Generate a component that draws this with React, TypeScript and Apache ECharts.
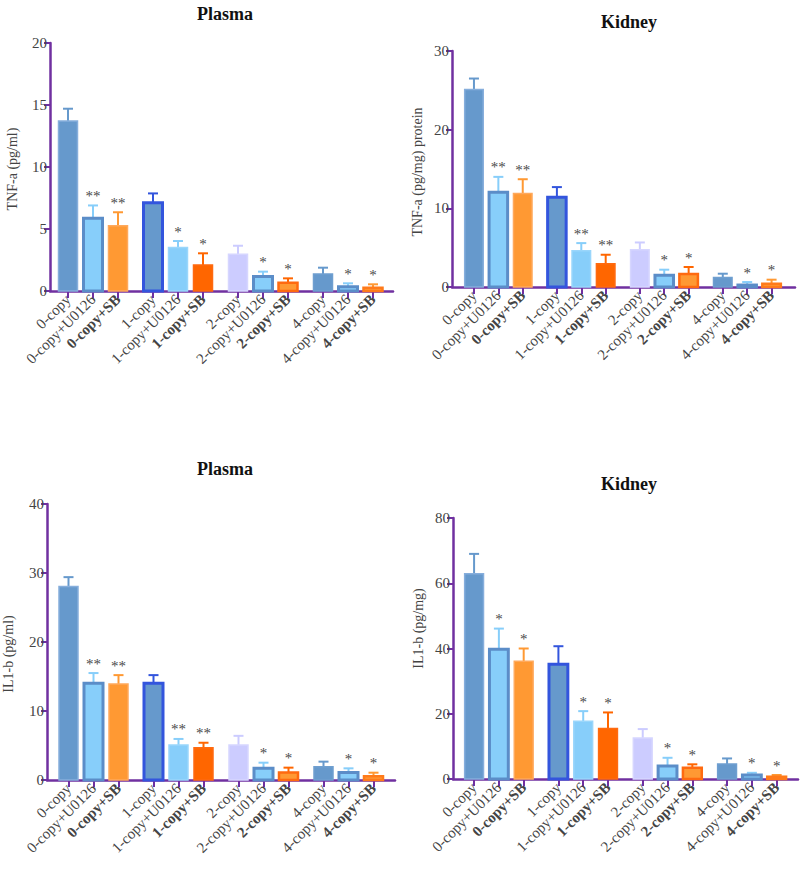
import React, { useEffect, useRef } from "react";
import * as echarts from "echarts";

const categories = [
  "0-copy", "0-copy+U0126", "0-copy+SB",
  "1-copy", "1-copy+U0126", "1-copy+SB",
  "2-copy", "2-copy+U0126", "2-copy+SB",
  "4-copy", "4-copy+U0126", "4-copy+SB",
];
// grouped category positions on the x value axis (groups of three, with a gap)
const xPositions = [0, 1, 2, 3.4, 4.4, 5.4, 6.8, 7.8, 8.8, 10.2, 11.2, 12.2];

const plasmaTnfMean = [13.7, 5.86, 5.27, 7.12, 3.5, 2.1, 2.96, 1.16, 0.67, 1.37, 0.35, 0.27];
const plasmaTnfErr = [1.0, 1.04, 1.08, 0.75, 0.53, 0.94, 0.69, 0.4, 0.35, 0.51, 0.27, 0.27];
const plasmaTnfSig = ["", "**", "**", "", "*", "*", "", "*", "*", "", "*", "*"];

const kidneyTnfMean = [25.1, 12.05, 11.9, 11.4, 4.6, 2.96, 4.73, 1.48, 1.65, 1.22, 0.25, 0.42];
const kidneyTnfErr = [1.4, 1.95, 1.8, 1.3, 0.98, 1.14, 0.93, 0.72, 0.89, 0.47, 0.38, 0.51];
const kidneyTnfSig = ["", "**", "**", "", "**", "**", "", "*", "*", "", "*", "*"];

const plasmaIlMean = [28.06, 14.03, 13.9, 14.03, 5.08, 4.69, 5.08, 1.69, 1.1, 1.93, 1.1, 0.53];
const plasmaIlErr = [1.34, 1.47, 1.3, 1.17, 0.87, 0.71, 1.32, 0.82, 0.69, 0.73, 0.59, 0.53];
const plasmaIlSig = ["", "**", "**", "", "**", "**", "", "*", "*", "", "*", "*"];

const kidneyIlMean = [62.9, 39.75, 36.1, 35.2, 17.7, 15.5, 12.6, 3.98, 3.46, 4.59, 1.22, 0.7];
const kidneyIlErr = [6.1, 6.35, 3.9, 5.5, 3.1, 4.9, 2.7, 2.52, 1.04, 1.71, 0.68, 0.52];
const kidneyIlSig = ["", "*", "*", "", "*", "*", "", "*", "*", "", "*", "*"];

const panelTitles = ["Plasma", "Kidney", "Plasma", "Kidney"];
const yNames = ["TNF-a (pg/ml)", "TNF-a (pg/mg) protein", "IL1-b (pg/ml)", "IL1-b (pg/mg)"];
const yMax = [20, 30, 40, 80];
const yStep = [5, 10, 10, 20];

const fillColors = ["#6699CC", "#87CEFA", "#FF9933", "#6699CC", "#87CEFA", "#FF6600", "#CCCCFF", "#87CEFA", "#FF9933", "#6699CC", "#87CEFA", "#FF9933"];
const borderColors = ["#86AEDC", "#5B8DC8", "#FFA95C", "#3355DD", "#9AD6FB", "#FF6A10", "#D6D6FF", "#5B8DC8", "#FF6A10", "#6F9FD0", "#5B8DC8", "#FF7A1A"];
const borderWidths = [1.5, 3, 1.5, 3, 1.5, 1.5, 1.5, 3, 2.5, 1.5, 3, 2.5];
const errColors = ["#6699CC", "#87CEFA", "#FF9933", "#3355DD", "#87CEFA", "#FF6600", "#CCCCFF", "#87CEFA", "#FF6600", "#6699CC", "#87CEFA", "#FF9933"];

const AXIS = "#7030A0";
const SERIF = "'Liberation Serif', 'DejaVu Serif', serif";

export default function App() {
  const ref = useRef<HTMLDivElement>(null);
  useEffect(() => {
    document.body.style.margin = "0";
    const chart = echarts.init(ref.current!, null, { renderer: "svg" });

    const panels = [
      { mean: plasmaTnfMean, err: plasmaTnfErr, sig: plasmaTnfSig, grid: { left: 50, top: 43, width: 343, height: 248 }, xmin: -0.72, xmax: 13.0, title: { x: 220, y: 0 }, nameGap: 31, namePad: [0, 4, 0, 0] },
      { mean: kidneyTnfMean, err: kidneyTnfErr, sig: kidneyTnfSig, grid: { left: 452, top: 51, width: 343, height: 236 }, xmin: -0.9, xmax: 13.16, title: { x: 624, y: 8 }, nameGap: 28, namePad: [0, 6, 0, 0] },
      { mean: plasmaIlMean, err: plasmaIlErr, sig: plasmaIlSig, grid: { left: 45, top: 504, width: 350, height: 276 }, xmin: -0.86, xmax: 13.06, title: { x: 220, y: 455 }, nameGap: 32, namePad: [0, 24, 0, 0] },
      { mean: kidneyIlMean, err: kidneyIlErr, sig: kidneyIlSig, grid: { left: 453, top: 518, width: 345, height: 261 }, xmin: -0.85, xmax: 13.06, title: { x: 624, y: 470 }, nameGap: 28, namePad: [0, 0, 0, 40] },
    ];

    const option: any = {
      animation: false,
      backgroundColor: "#ffffff",
      title: panels.map((p, i) => ({
        text: panelTitles[i],
        left: p.title.x,
        top: p.title.y,
        textAlign: "center",
        textStyle: { fontFamily: SERIF, fontWeight: "bold", fontSize: 18, color: "#111" },
      })),
      grid: panels.map((p) => ({ ...p.grid, containLabel: false })),
      xAxis: panels.map((p, i) => ({
        type: "value",
        gridIndex: i,
        min: p.xmin,
        max: p.xmax,
        splitLine: { show: false },
        axisLine: { show: true, onZero: false, lineStyle: { color: AXIS, width: 2.5 } },
        axisTick: { show: true, customValues: xPositions, length: 7, lineStyle: { color: AXIS, width: 2 } },
        axisLabel: {
          customValues: xPositions,
          rotate: 45,
          margin: 6,
          fontFamily: SERIF,
          fontSize: 15,
          color: "#444",
          formatter: (v: number) => {
            const k = xPositions.findIndex((q) => Math.abs(q - v) < 1e-6);
            const name = k >= 0 ? categories[k] : "";
            return name.endsWith("+SB") ? "{b|" + name + "}" : name;
          },
          rich: { b: { fontFamily: SERIF, fontSize: 15, fontWeight: "bold", color: "#444" } },
        },
      })),
      yAxis: panels.map((p, i) => ({
        type: "value",
        gridIndex: i,
        min: 0,
        max: yMax[i],
        interval: yStep[i],
        name: yNames[i],
        nameLocation: "middle",
        nameGap: p.nameGap,
        nameTextStyle: { fontFamily: SERIF, fontSize: 14, color: "#444", padding: p.namePad },
        splitLine: { show: false },
        axisLine: { show: true, onZero: false, lineStyle: { color: AXIS, width: 2.5 } },
        axisTick: { show: true, length: 6, lineStyle: { color: AXIS, width: 2 } },
        axisLabel: { fontFamily: SERIF, fontSize: 15, color: "#444", margin: 3 },
      })),
      series: panels.map((p, i) => ({
        type: "custom",
        xAxisIndex: i,
        yAxisIndex: i,
        clip: false,
        data: xPositions.map((x, k) => [x, p.mean[k], p.err[k]]),
        renderItem: (params: any, api: any) => {
          const k = params.dataIndex;
          const x = api.value(0);
          const y = api.value(1);
          const e = api.value(2);
          const bl = api.coord([x - 0.38, 0]);
          const tr = api.coord([x + 0.38, y]);
          const c = api.coord([x, y + e]);
          const cx = c[0];
          const children: any[] = [
            {
              type: "line",
              shape: { x1: cx, y1: tr[1], x2: cx, y2: c[1] },
              style: { stroke: errColors[k], lineWidth: 2 },
            },
            {
              type: "line",
              shape: { x1: cx - 5, y1: c[1], x2: cx + 5, y2: c[1] },
              style: { stroke: errColors[k], lineWidth: 2 },
            },
            {
              type: "rect",
              shape: { x: bl[0], y: tr[1], width: tr[0] - bl[0], height: bl[1] - tr[1] },
              style: { fill: fillColors[k], stroke: borderColors[k], lineWidth: borderWidths[k] },
            },
          ];
          if (p.sig[k]) {
            children.push({
              type: "text",
              x: cx,
              y: c[1] - 2,
              style: {
                text: p.sig[k],
                fill: "#4a4a4a",
                font: "15px " + SERIF,
                align: "center",
                verticalAlign: "bottom",
              },
            });
          }
          return { type: "group", children };
        },
      })),
    };

    chart.setOption(option);
    return () => chart.dispose();
  }, []);

  return <div ref={ref} style={{ width: 800, height: 875 }} />;
}
